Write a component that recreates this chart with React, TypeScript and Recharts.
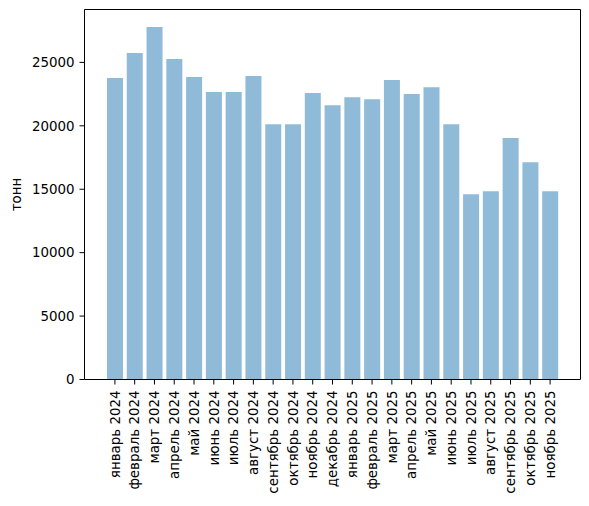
import React from 'react';
import { BarChart, Bar, XAxis, YAxis, CartesianGrid } from 'recharts';

const months = [
  'январь 2024', 'февраль 2024', 'март 2024', 'апрель 2024', 'май 2024', 'июнь 2024',
  'июль 2024', 'август 2024', 'сентябрь 2024', 'октябрь 2024', 'ноябрь 2024', 'декабрь 2024',
  'январь 2025', 'февраль 2025', 'март 2025', 'апрель 2025', 'май 2025', 'июнь 2025',
  'июль 2025', 'август 2025', 'сентябрь 2025', 'октябрь 2025', 'ноябрь 2025',
];

const tonnes = [
  23760, 25740, 27790, 25260, 23840, 22660,
  22660, 23920, 20130, 20130, 22580, 21630,
  22260, 22100, 23610, 22500, 23050, 20130,
  14600, 14840, 19030, 17130, 14840,
];

const yTicks = [0, 5000, 10000, 15000, 20000, 25000];

const data = months.map((m, i) => ({ month: m, value: tonnes[i] }));

const FONT = 'DejaVu Sans';
const FS = 13.4;

const XTick = (props: any) => {
  const { x, y, payload } = props;
  return (
    <text
      transform={`translate(${x},${y}) rotate(-90)`}
      textAnchor="end"
      dy="0.35em"
      fontSize={FS}
      fontFamily={FONT}
      fill="#000"
    >
      {payload.value}
    </text>
  );
};

const YTick = (props: any) => {
  const { x, y, payload } = props;
  return (
    <text
      x={x}
      y={y}
      textAnchor="end"
      dy="0.35em"
      fontSize={FS}
      fontFamily={FONT}
      fill="#000"
    >
      {payload.value}
    </text>
  );
};

const YLabel = (props: any) => {
  const vb = props.viewBox || { x: 0, y: 9.5, width: 84, height: 369.5 };
  const cy = vb.y + vb.height / 2;
  return (
    <text
      transform={`translate(16,${cy}) rotate(-90)`}
      textAnchor="middle"
      dy="0.35em"
      fontSize={FS}
      fontFamily={FONT}
      fill="#000"
    >
      тонн
    </text>
  );
};

const hGen = (p: any) => {
  const o = p && p.offset;
  if (o) return [o.top];
  return [9.5];
};
const vGen = (p: any) => {
  const o = p && p.offset;
  if (o) return [o.left + o.width];
  return [580.5];
};

export default function App() {
  return (
    <div>
      <style>{`body{margin:0;background:#fff}`}</style>
      <BarChart
        width={589}
        height={506}
        data={data}
        margin={{ top: 9.5, right: 8.5, bottom: 0, left: 0 }}
        barCategoryGap="10%"
      >
        <CartesianGrid
          stroke="#000"
          strokeWidth={1}
          horizontalCoordinatesGenerator={hGen}
          verticalCoordinatesGenerator={vGen}
        />
        <XAxis
          dataKey="month"
          interval={0}
          height={126.5}
          padding={{ left: 20.5, right: 20.5 }}
          tick={<XTick />}
          tickSize={5}
          tickMargin={6}
          axisLine={{ stroke: '#000', strokeWidth: 1 }}
          tickLine={{ stroke: '#000', strokeWidth: 1 }}
        />
        <YAxis
          width={84.5}
          domain={[0, 29170]}
          ticks={yTicks}
          allowDataOverflow
          tickSize={5}
          tickMargin={5}
          tick={<YTick />}
          axisLine={{ stroke: '#000', strokeWidth: 1 }}
          tickLine={{ stroke: '#000', strokeWidth: 1 }}
          label={<YLabel />}
        />
        <Bar dataKey="value" fill="#1f77b4" fillOpacity={0.5} isAnimationActive={false} />
      </BarChart>
    </div>
  );
}
